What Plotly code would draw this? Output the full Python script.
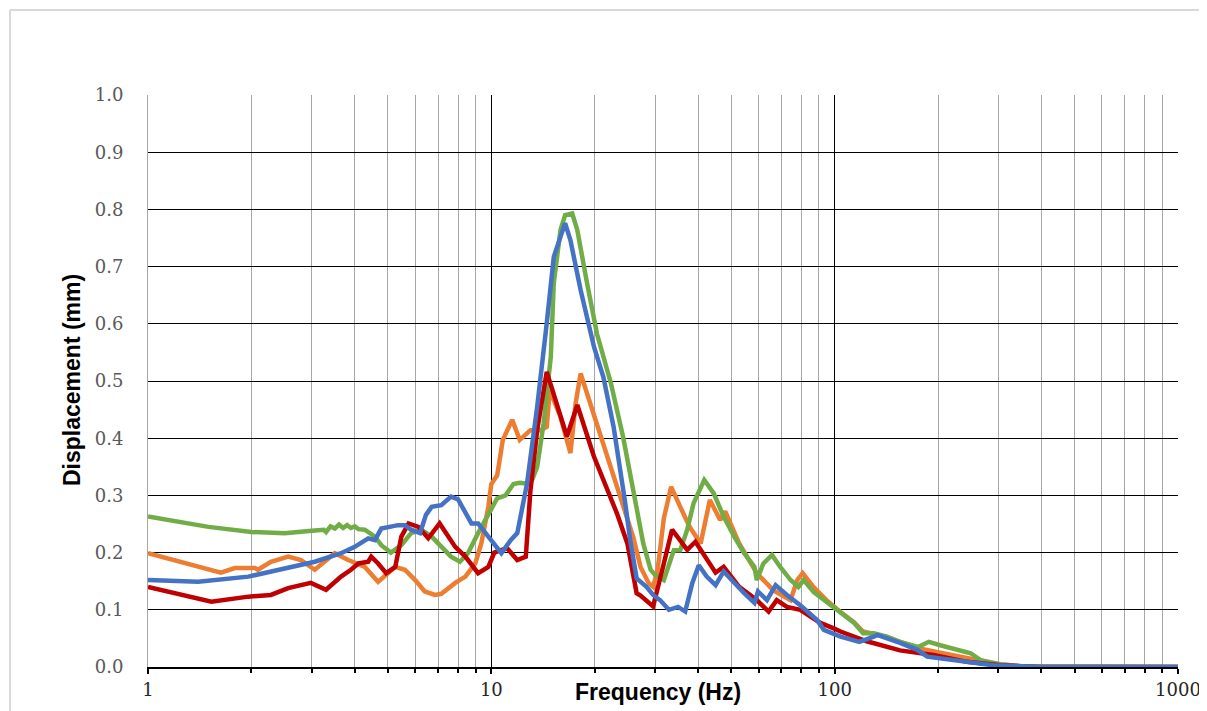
import plotly.graph_objects as go

# ---- data (frequency Hz, displacement mm) ----
green_f = [1, 1.5, 2, 2.5, 3, 3.25, 3.3, 3.4, 3.5, 3.6, 3.7, 3.8, 3.9, 4.0, 4.1, 4.28, 4.58, 4.78, 5.1,
           5.47, 5.84, 6.25, 6.7, 7.15, 7.63, 8.1, 8.55, 9.15, 9.8, 10.4, 11.0, 11.6, 12.1, 13.0, 13.6,
           14.2, 14.9, 15.2, 15.9, 16.4, 17.2, 17.8, 19.0, 20.3, 22.3, 24.2, 25.9, 27.7, 29.1, 30.0, 31.8,
           34.0, 35.5, 37.2, 38.8, 41.7, 44.4, 47.5, 51.0, 54.5, 58.4, 59.3, 62.0, 65.7, 69.4, 74.4, 78.4,
           81.2, 86.9, 95.4, 104, 114, 121, 130, 142, 155, 175, 188, 203, 249, 266, 304, 350, 1000]
green_v = [0.263, 0.245, 0.236, 0.234, 0.238, 0.24, 0.236, 0.246, 0.242, 0.249, 0.243, 0.248, 0.243, 0.246, 0.241,
           0.24, 0.228, 0.213, 0.2, 0.213, 0.234, 0.24, 0.228, 0.21, 0.193, 0.184, 0.199, 0.234, 0.269, 0.295,
           0.30, 0.32, 0.322, 0.32, 0.35, 0.426, 0.542, 0.671, 0.764, 0.79, 0.793, 0.764, 0.671, 0.583, 0.496,
           0.402, 0.309, 0.216, 0.17, 0.161, 0.152, 0.204, 0.204, 0.24, 0.286, 0.327, 0.304, 0.263, 0.228,
           0.199, 0.175, 0.152, 0.181, 0.196, 0.175, 0.152, 0.14, 0.152, 0.131, 0.112, 0.094, 0.077, 0.059,
           0.059, 0.053, 0.044, 0.035, 0.044, 0.038, 0.024, 0.012, 0.005, 0.001, 0.0]

orange_f = [1, 1.63, 1.79, 2.05, 2.09, 2.28, 2.56, 2.79, 3.06, 3.5, 3.83, 4.28, 4.68, 5.25, 5.6, 6.0, 6.4,
            6.85, 7.15, 7.85, 8.4, 8.98, 9.35, 9.8, 10.0, 10.4, 10.8, 11.5, 12.1, 13.0, 13.9, 14.5, 14.8,
            15.9, 17.0, 17.6, 18.2, 19.4, 21.2, 23.7, 25.9, 27.2, 28.7, 29.6, 30.5, 31.8, 33.4, 35.5, 37.8,
            40.7, 43.3, 46.4, 48.0, 52.7, 59.3, 66.3, 74.4, 77.8, 80.7, 86.7, 95.4, 104, 114, 121, 130, 142,
            155, 175, 203, 249, 300, 350, 1000]
orange_v = [0.199, 0.165, 0.173, 0.173, 0.17, 0.184, 0.193, 0.187, 0.17, 0.199, 0.187, 0.175, 0.149, 0.175,
            0.17, 0.152, 0.132, 0.126, 0.128, 0.147, 0.158, 0.181, 0.216, 0.28, 0.32, 0.335, 0.397, 0.432,
            0.397, 0.414, 0.414, 0.42, 0.484, 0.437, 0.374, 0.461, 0.513, 0.461, 0.391, 0.3, 0.227, 0.175,
            0.147, 0.14, 0.17, 0.26, 0.315, 0.28, 0.245, 0.216, 0.292, 0.257, 0.272, 0.216, 0.164, 0.134,
            0.117, 0.152, 0.164, 0.14, 0.115, 0.096, 0.078, 0.062, 0.058, 0.052, 0.044, 0.033, 0.025, 0.015,
            0.005, 0.001, 0.0]

red_f = [1, 1.53, 1.96, 2.28, 2.56, 2.98, 3.3, 3.65, 3.9, 4.1, 4.38, 4.47, 4.68, 4.94, 5.25, 5.47, 5.74,
         6.13, 6.55, 7.07, 7.85, 8.4, 9.15, 9.8, 10.2, 11.1, 11.9, 12.6, 13.0, 13.6, 14.5, 15.5, 16.6, 17.8,
         19.9, 23.2, 24.9, 26.5, 27.2, 29.6, 31.0, 31.8, 33.6, 37.2, 39.3, 43.3, 45.0, 47.5, 52.7, 59.3,
         64.2, 67.8, 72.6, 79.4, 90.8, 99, 104, 124, 155, 194, 243, 304, 400, 1000]
red_v = [0.14, 0.114, 0.123, 0.126, 0.138, 0.147, 0.135, 0.158, 0.17, 0.181, 0.184, 0.193, 0.181, 0.164,
         0.175, 0.228, 0.251, 0.245, 0.225, 0.251, 0.21, 0.193, 0.164, 0.175, 0.2, 0.208, 0.187, 0.193, 0.309,
         0.414, 0.516, 0.461, 0.403, 0.458, 0.368, 0.269, 0.216, 0.129, 0.125, 0.106, 0.152, 0.181, 0.24,
         0.205, 0.219, 0.181, 0.165, 0.175, 0.14, 0.117, 0.097, 0.117, 0.105, 0.1, 0.077, 0.068, 0.062,
         0.045, 0.029, 0.021, 0.009, 0.003, 0.0, 0.0]

blue_f = [1, 1.4, 1.96, 2.44, 3.06, 3.65, 4.0, 4.38, 4.58, 4.78, 5.35, 5.6, 5.84, 6.2, 6.45, 6.7, 7.15, 7.63,
          8.0, 8.75, 9.15, 9.8, 10.7, 11.4, 11.9, 12.7, 13.6, 14.5, 15.2, 15.9, 16.4, 17.0, 18.2, 19.9, 21.2,
          22.7, 23.7, 24.5, 25.4, 26.5, 28.3, 29.6, 31.0, 32.9, 35.0, 36.7, 38.5, 40.2, 42.4, 45.0, 47.5,
          51.0, 54.5, 58.4, 59.8, 63.5, 67.3, 72.6, 79.4, 88.9, 93, 104, 118, 130, 133, 155, 174, 186, 243,
          290, 400, 1000]
blue_v = [0.152, 0.149, 0.158, 0.17, 0.184, 0.199, 0.21, 0.225, 0.222, 0.242, 0.248, 0.248, 0.24, 0.234,
          0.266, 0.28, 0.283, 0.298, 0.293, 0.251, 0.251, 0.228, 0.199, 0.222, 0.234, 0.32, 0.455, 0.601,
          0.717, 0.752, 0.776, 0.746, 0.659, 0.56, 0.507, 0.42, 0.35, 0.29, 0.22, 0.155, 0.14, 0.126, 0.117,
          0.1, 0.105, 0.097, 0.147, 0.178, 0.158, 0.143, 0.167, 0.147, 0.129, 0.112, 0.132, 0.117, 0.143,
          0.126, 0.108, 0.082, 0.065, 0.053, 0.044, 0.053, 0.056, 0.042, 0.03, 0.018, 0.009, 0.003, 0.0, 0.0]

x_major = [1, 10, 100, 1000]
x_labels = ["1", "10", "100", "1000"]
x_minor = [m * d for d in (1, 10, 100) for m in range(2, 10)]
y_ticks = [round(i * 0.1, 1) for i in range(11)]

series = [
    ("Orange", orange_f, orange_v, "#ED7D31"),
    ("Green", green_f, green_v, "#70AD47"),
    ("Red", red_f, red_v, "#C00000"),
    ("Blue", blue_f, blue_v, "#4472C4"),
]

fig = go.Figure()
for name, f, v, c in series:
    fig.add_trace(go.Scatter(x=f, y=v, mode="lines", name=name,
                             line=dict(color=c, width=4.5), showlegend=False))

# page offset (body margin) compensation
OFF = 8
W, H = 1207, 711
PL, PR, PT, PB = 148, 1178, 95, 667   # target plot-area pixel edges in the window
L = PL - OFF
T = PT - OFF
R = (OFF + W) - PR
B = (OFF + H) - PB
pw, ph = PR - PL, PB - PT


def px2paper_x(px):
    return (px - PL) / pw


def px2paper_y(py):
    return (PB - py) / ph


fig.update_layout(
    width=W, height=H,
    margin=dict(l=L, r=R, t=T, b=B),
    paper_bgcolor="white", plot_bgcolor="white",
    xaxis=dict(
        type="log", range=[0, 3],
        tickvals=x_major, ticktext=x_labels,
        showgrid=True, gridcolor="#000000", gridwidth=1,
        showline=True, linecolor="#000000", linewidth=2,
        ticks="outside", ticklen=5, tickcolor="#000000", tickwidth=2,
        tickfont=dict(family="DejaVu Serif", size=18, color="#262626"),
        minor=dict(tickvals=x_minor, showgrid=True, gridcolor="#a6a6a6", gridwidth=1,
                   ticks="outside", ticklen=4, tickcolor="#000000", tickwidth=2),
        zeroline=False, fixedrange=True,
    ),
    yaxis=dict(
        range=[0, 1.0], tickvals=y_ticks, ticktext=[f"{t:.1f}" for t in y_ticks],
        showgrid=True, gridcolor="#000000", gridwidth=1,
        showline=True, linecolor="#a6a6a6", linewidth=1,
        ticks="", ticklabelstandoff=20,
        tickfont=dict(family="DejaVu Serif", size=18, color="#595959"),
        zeroline=False, fixedrange=True,
    ),
    font=dict(family="Liberation Sans"),
)

# axis titles
fig.add_annotation(text="<b>Frequency (Hz)</b>", xref="paper", yref="paper",
                   x=px2paper_x(658), y=px2paper_y(692), showarrow=False,
                   font=dict(family="Liberation Sans", size=23, color="#000000"),
                   xanchor="center", yanchor="middle")
fig.add_annotation(text="<b>Displacement (mm)</b>", xref="paper", yref="paper",
                   x=px2paper_x(72), y=px2paper_y(380), showarrow=False, textangle=-90,
                   font=dict(family="Liberation Sans", size=23, color="#000000"),
                   xanchor="center", yanchor="middle")

# chart-area frame (light gray)
fx0, fx1 = px2paper_x(10), px2paper_x(W + 10)
fy0, fy1 = px2paper_y(H + 10), px2paper_y(10)
fig.add_shape(type="line", xref="paper", yref="paper", x0=fx0, x1=fx1, y0=fy1, y1=fy1,
              line=dict(color="#d9d9d9", width=2))
fig.add_shape(type="line", xref="paper", yref="paper", x0=fx0, x1=fx0, y0=fy0, y1=fy1,
              line=dict(color="#d9d9d9", width=2))

fig.write_html("out.html")
